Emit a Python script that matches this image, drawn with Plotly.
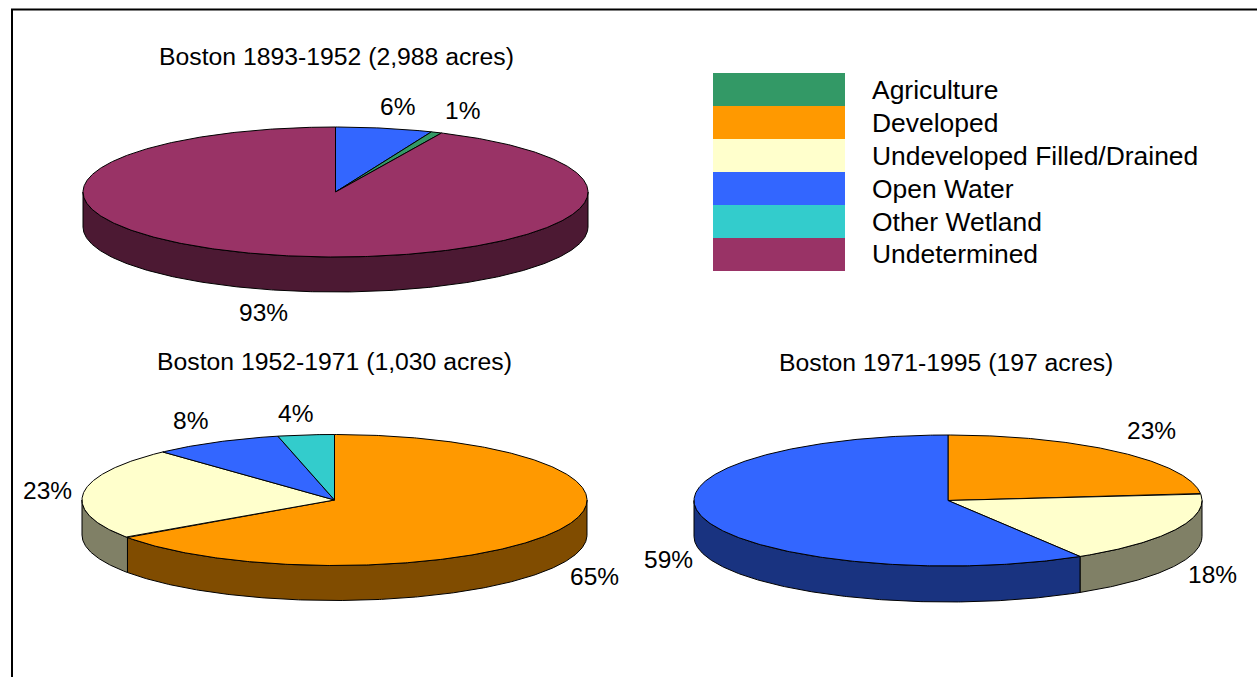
import numpy as np
import plotly.graph_objects as go

# ---------- data ----------
categories = ["Agriculture", "Developed", "Undeveloped Filled/Drained",
              "Open Water", "Other Wetland", "Undetermined"]

pie1_title = "Boston 1893-1952 (2,988 acres)"
pie1_cats = ["Open Water", "Agriculture", "Undetermined"]
pie1_vals = [6.2, 0.7, 93.1]

pie2_title = "Boston 1952-1971 (1,030 acres)"
pie2_cats = ["Developed", "Undeveloped Filled/Drained", "Open Water", "Other Wetland"]
pie2_vals = [65.3, 22.8, 8.3, 3.6]

pie3_title = "Boston 1971-1995 (197 acres)"
pie3_cats = ["Developed", "Undeveloped Filled/Drained", "Open Water"]
pie3_vals = [23.3, 18.0, 58.7]

# ---------- style and layout ----------
COLORS = {"Agriculture": "#339966", "Developed": "#FF9900",
          "Undeveloped Filled/Drained": "#FFFFCC", "Open Water": "#3366FF",
          "Other Wetland": "#33CCCC", "Undetermined": "#993366"}
SIDES = {"Agriculture": "#194C33", "Developed": "#804C00",
         "Undeveloped Filled/Drained": "#808066", "Open Water": "#193380",
         "Other Wetland": "#196666", "Undetermined": "#4C1933"}
FONT = "Liberation Sans, Arial, sans-serif"
FS_TITLE, FS_LABEL, FS_LEGEND = 24.75, 24.5, 26.45
W, H = 1257, 677

PIES = [
    dict(title=pie1_title, cats=pie1_cats, vals=pie1_vals, cx=335.5, cy=192, rx=252.5, ry=65, d=35,
         title_pos=(336.5, 56), label_pos=[(397, 106.5), (462.5, 110), (263, 312)]),
    dict(title=pie2_title, cats=pie2_cats, vals=pie2_vals, cx=334.5, cy=500, rx=252.5, ry=65.5, d=35,
         title_pos=(334, 361), label_pos=[(594.5, 576), (47.5, 490), (190.5, 420), (295, 413)]),
    dict(title=pie3_title, cats=pie3_cats, vals=pie3_vals, cx=948, cy=500.5, rx=254, ry=65.5, d=36,
         title_pos=(946, 362), label_pos=[(1151.5, 430), (1212, 574), (668, 559)]),
]

LEGEND_X = (713, 845)
LEGEND_TEXT_X = 870
LEGEND_Y0 = 73
LEGEND_ROW = 33
LEGEND_TEXT_Y = [90, 123, 156, 189, 222, 254]

fig = go.Figure()
annotations = []


def text(x, y, s, size, anchor="center"):
    annotations.append(dict(x=x, y=y, text=s, xref="x", yref="y", showarrow=False,
                            xanchor=anchor, yanchor="middle", align="left",
                            font=dict(family=FONT, size=size, color="#000000")))


def arc(p, a0, a1):
    n = max(2, int(abs(a1 - a0) * 2) + 2)
    t = np.radians(np.linspace(a0, a1, n))
    return p["cx"] + p["rx"] * np.sin(t), p["cy"] - p["ry"] * np.cos(t)


def poly(x, y, fill, name):
    fig.add_trace(go.Scatter(x=list(x), y=list(y), mode="lines", fill="toself", fillcolor=fill,
                             line=dict(color="#000000", width=1), name=name,
                             hoverinfo="name", showlegend=False))


for p in PIES:
    total = sum(p["vals"])
    edges = np.concatenate([[0], np.cumsum(p["vals"])]) / total * 360
    # side walls of the front half
    for c, a0, a1 in zip(p["cats"], edges[:-1], edges[1:]):
        lo, hi = max(a0, 90), min(a1, 270)
        if hi > lo:
            x, y = arc(p, lo, hi)
            poly(np.r_[x, x[::-1], x[0]], np.r_[y, y[::-1] + p["d"], y[0]], SIDES[c], c)
    # top surface
    for c, a0, a1 in zip(p["cats"], edges[:-1], edges[1:]):
        x, y = arc(p, a0, a1)
        poly(np.r_[p["cx"], x, p["cx"]], np.r_[p["cy"], y, p["cy"]], COLORS[c], c)
    text(*p["title_pos"], p["title"], FS_TITLE)
    for v, pos in zip(p["vals"], p["label_pos"]):
        text(*pos, f"{round(v)}%", FS_LABEL)

# legend swatches
for i, c in enumerate(categories):
    y0 = LEGEND_Y0 + i * LEGEND_ROW
    fig.add_trace(go.Scatter(
        x=[LEGEND_X[0], LEGEND_X[1], LEGEND_X[1], LEGEND_X[0], LEGEND_X[0]],
        y=[y0, y0, y0 + LEGEND_ROW, y0 + LEGEND_ROW, y0],
        mode="lines", fill="toself", fillcolor=COLORS[c], line=dict(width=0),
        name=c, hoverinfo="name", showlegend=False))
    text(LEGEND_TEXT_X, LEGEND_TEXT_Y[i], c, FS_LEGEND, anchor="left")

axis = dict(visible=False, fixedrange=True)
fig.update_layout(
    width=W, height=H, autosize=False, margin=dict(l=0, r=0, t=0, b=0),
    paper_bgcolor="#FFFFFF", plot_bgcolor="#FFFFFF", showlegend=False,
    xaxis=dict(axis, range=[0, W]),
    yaxis=dict(axis, range=[H, 0]),
    annotations=annotations,
    shapes=[dict(type="rect", xref="x", yref="y", x0=12, y0=9.5, x1=W + 20, y1=H + 20,
                 line=dict(color="#000000", width=2), layer="below")],
)
fig.write_html("out.html", config={"displayModeBar": False},
               post_script="document.body.style.margin='0';document.body.style.overflow='hidden';")
